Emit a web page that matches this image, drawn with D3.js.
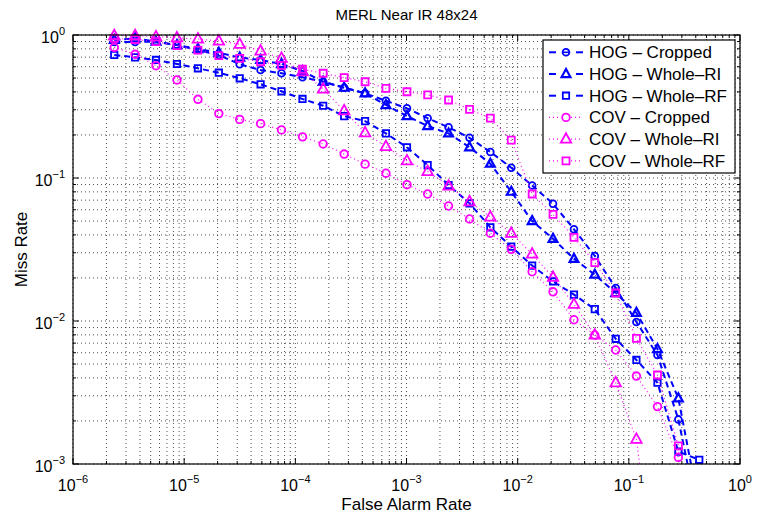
<!DOCTYPE html>
<html><head><meta charset="utf-8">
<script src="https://cdn.jsdelivr.net/npm/d3@7"></script>
<style>
body{margin:0;background:#fff}
text{font-family:"Liberation Sans",Arial,Helvetica,sans-serif;fill:#000}
</style>
</head><body>
<svg id="chart" width="759" height="517"></svg>
<script>
// ---------- data ----------
const fppw = [2.35e-6,3.62e-6,5.58e-6,8.61e-6,1.33e-5,2.05e-5,3.16e-5,4.87e-5,7.51e-5,1.16e-4,
  1.78e-4,2.75e-4,4.24e-4,6.53e-4,1.01e-3,1.55e-3,2.39e-3,3.69e-3,5.68e-3,8.76e-3,
  1.35e-2,2.08e-2,3.21e-2,4.94e-2,7.62e-2,0.117,0.181,0.279,0.430];

const hogCropped = [0.894,0.894,0.898,0.851,0.785,0.725,0.624,0.569,0.540,0.506,0.471,0.428,0.391,0.347,0.307,
  0.262,0.226,0.191,0.152,0.118,0.0886,0.0661,0.0438,0.0285,0.0170,0.00984,0.00578,0.00205,0.0004];
const hogWholeRI = [0.923,0.948,0.898,0.851,0.798,0.752,0.696,0.669,0.627,0.560,0.471,0.428,0.391,0.324,0.271,
  0.231,0.205,0.164,0.126,0.0802,0.0500,0.0376,0.0272,0.0211,0.0157,0.0114,0.00637,0.00288,0.0005];
const hogWholeRF = [0.725,0.698,0.669,0.627,0.585,0.545,0.498,0.452,0.404,0.357,0.320,0.271,0.250,0.205,0.164,
  0.123,0.0893,0.0665,0.0452,0.0331,0.0244,0.0189,0.0153,0.0121,0.00751,0.00534,0.00370,0.00122,0.00107];
const covCropped = [0.820,0.733,0.610,0.485,0.355,0.282,0.257,0.240,0.217,0.194,0.173,0.147,0.125,0.108,0.0898,
  0.0773,0.0637,0.0517,0.0411,0.0317,0.0221,0.0160,0.0102,0.00798,0.00627,0.00412,0.00252,0.00111];
const covWholeRI = [0.99,0.99,0.973,0.957,0.938,0.908,0.861,0.773,0.687,0.554,0.419,0.295,0.207,0.166,0.132,
  0.111,0.0879,0.0683,0.0534,0.0411,0.0294,0.0202,0.0131,0.00798,0.00370,0.00149];
const covWholeRF = [0.948,0.930,0.898,0.842,0.785,0.717,0.687,0.650,0.614,0.576,0.540,0.503,0.471,0.424,0.401,
  0.381,0.351,0.302,0.262,0.184,0.0773,0.0556,0.0385,0.0256,0.0157,0.00757,0.00419,0.00134];
// last (off-axis) point of each COV curve: [fppw, miss]
const covCroppedEnd = [0.29, 0.0005];
const covWholeRIEnd = [0.14, 0.0005];
const covWholeRFEnd = [0.30, 0.0005];

const seriesNames = ["HOG \u2013 Cropped","HOG \u2013 Whole\u2013RI","HOG \u2013 Whole\u2013RF",
                     "COV \u2013 Cropped","COV \u2013 Whole\u2013RI","COV \u2013 Whole\u2013RF"];
const xTickExp = [-6,-5,-4,-3,-2,-1,0];
const yTickExp = [-3,-2,-1,0];
const titleText = "MERL Near IR 48x24";
const xLabel = "False Alarm Rate";
const yLabel = "Miss Rate";

// ---------- layout ----------
const L = 73, R = 740, T = 35, B = 464;
const svg = d3.select("#chart");
const x = d3.scaleLog().domain([1e-6, 1]).range([L, R]);
const y = d3.scaleLog().domain([1e-3, 1]).range([B, T]);

const BLUE = "#0000ff", MAG = "#ff00ff";

function pts(vals, end) {
  const p = vals.map((v, i) => [fppw[i], v]);
  if (end) p.push(end);
  return p;
}
const series = [
  {name: seriesNames[0], data: pts(hogCropped), color: BLUE, dash: "6,4", w: 2, marker: "o", ms: 3.4, mw: 1.8},
  {name: seriesNames[1], data: pts(hogWholeRI), color: BLUE, dash: "6,4", w: 2, marker: "^", ms: 8, mw: 2.2},
  {name: seriesNames[2], data: pts(hogWholeRF), color: BLUE, dash: "6,4", w: 2, marker: "s", ms: 6.4, mw: 1.8},
  {name: seriesNames[3], data: pts(covCropped, covCroppedEnd), color: MAG, dash: "1,3", w: 1.2, marker: "o", ms: 3.8, mw: 1.8},
  {name: seriesNames[4], data: pts(covWholeRI, covWholeRIEnd), color: MAG, dash: "1,3", w: 1.2, marker: "^", ms: 9.5, mw: 1.8},
  {name: seriesNames[5], data: pts(covWholeRF, covWholeRFEnd), color: MAG, dash: "1,3", w: 1.2, marker: "s", ms: 7, mw: 1.8}
];

// background
svg.append("rect").attr("x", L).attr("y", T).attr("width", R - L).attr("height", B - T).attr("fill", "#fff");

// grid
const gGrid = svg.append("g").attr("stroke", "#222").attr("stroke-width", 0.8)
  .attr("stroke-dasharray", "1,3");
x.ticks().forEach(t => {
  gGrid.append("line").attr("x1", x(t)).attr("x2", x(t)).attr("y1", B).attr("y2", T);
});
y.ticks().forEach(t => {
  gGrid.append("line").attr("y1", y(t)).attr("y2", y(t)).attr("x1", L).attr("x2", R);
});

// ticks (inward, all four sides)
const isMajor = t => Math.abs(Math.log10(t) - Math.round(Math.log10(t))) < 1e-9;
const gTicks = svg.append("g").attr("stroke", "#000").attr("stroke-width", 1);
x.ticks().forEach(t => {
  const len = isMajor(t) ? 6 : 3;
  gTicks.append("line").attr("x1", x(t)).attr("x2", x(t)).attr("y1", B).attr("y2", B - len);
  gTicks.append("line").attr("x1", x(t)).attr("x2", x(t)).attr("y1", T).attr("y2", T + len);
});
y.ticks().forEach(t => {
  const len = isMajor(t) ? 6 : 3;
  gTicks.append("line").attr("y1", y(t)).attr("y2", y(t)).attr("x1", L).attr("x2", L + len);
  gTicks.append("line").attr("y1", y(t)).attr("y2", y(t)).attr("x1", R).attr("x2", R - len);
});

// clip
svg.append("clipPath").attr("id", "plotClip").append("rect")
  .attr("x", L).attr("y", T - 10).attr("width", R - L + 10).attr("height", B - T + 10);

// markers
function markerPath(type, s) {
  if (type === "^") return `M0,${-s*0.62}L${s*0.55},${s*0.38}L${-s*0.55},${s*0.38}Z`;
  if (type === "s") return `M${-s/2},${-s/2}h${s}v${s}h${-s}Z`;
  return null;
}
const line = d3.line().x(d => x(d[0])).y(d => y(d[1]));
const gData = svg.append("g");
series.forEach(s => {
  gData.append("path").attr("d", line(s.data)).attr("fill", "none")
    .attr("stroke", s.color).attr("stroke-width", s.w).attr("stroke-dasharray", s.dash)
    .attr("clip-path", "url(#plotClip)");
  const vis = s.data.filter(d => d[1] >= 1e-3);
  const g = gData.append("g").attr("stroke", s.color).attr("fill", "none").attr("stroke-width", s.mw);
  vis.forEach(d => {
    if (s.marker === "o") {
      g.append("circle").attr("cx", x(d[0])).attr("cy", y(d[1])).attr("r", s.ms);
    } else {
      g.append("path").attr("transform", `translate(${x(d[0])},${y(d[1])})`)
        .attr("d", markerPath(s.marker, s.ms));
    }
  });
});

// box
svg.append("rect").attr("x", L).attr("y", T).attr("width", R - L).attr("height", B - T)
  .attr("fill", "none").attr("stroke", "#000").attr("stroke-width", 1.2);

// tick labels
xTickExp.forEach(e => {
  const t = svg.append("text").attr("x", x(Math.pow(10, e))).attr("y", 491)
    .attr("text-anchor", "middle").attr("font-size", 16);
  t.append("tspan").text("10");
  t.append("tspan").attr("dy", -8).attr("font-size", 11).text(e === 0 ? "0" : "\u2212" + (-e));
});
yTickExp.forEach(e => {
  const yy = y(Math.pow(10, e));
  const t = svg.append("text").attr("x", 65).attr("y", yy + 8)
    .attr("text-anchor", "end").attr("font-size", 16);
  t.append("tspan").text("10");
  t.append("tspan").attr("dy", -8).attr("font-size", 11).text(e === 0 ? "0" : "\u2212" + (-e));
});

// titles
svg.append("text").attr("x", (L + R) / 2).attr("y", 20).attr("text-anchor", "middle")
  .attr("font-size", 15).text(titleText);
svg.append("text").attr("x", (L + R) / 2).attr("y", 510).attr("text-anchor", "middle")
  .attr("font-size", 17).text(xLabel);
svg.append("text").attr("transform", `translate(27,${(T + B) / 2}) rotate(-90)`)
  .attr("text-anchor", "middle").attr("font-size", 17).text(yLabel);

// legend
const lg = svg.append("g");
lg.append("rect").attr("x", 543).attr("y", 40).attr("width", 192).attr("height", 133)
  .attr("fill", "#fff").attr("stroke", "#000").attr("stroke-width", 1.2);
series.forEach((s, i) => {
  const yy = 52.3 + i * 21.7;
  if (s.color === BLUE) {
    [[549, 556], [576, 583]].forEach(seg => lg.append("line").attr("x1", seg[0]).attr("x2", seg[1])
      .attr("y1", yy).attr("y2", yy).attr("stroke", s.color).attr("stroke-width", s.w));
  } else {
    [[549, 561], [571, 583]].forEach(seg => lg.append("line").attr("x1", seg[0]).attr("x2", seg[1])
      .attr("y1", yy).attr("y2", yy).attr("stroke", s.color).attr("stroke-width", s.w)
      .attr("stroke-dasharray", s.dash));
  }
  if (s.marker === "o") {
    lg.append("circle").attr("cx", 566).attr("cy", yy).attr("r", s.ms)
      .attr("fill", "none").attr("stroke", s.color).attr("stroke-width", s.mw);
    if (s.color === BLUE) lg.append("line").attr("x1", 562).attr("x2", 570).attr("y1", yy).attr("y2", yy)
      .attr("stroke", s.color).attr("stroke-width", 1.6);
  } else {
    lg.append("path").attr("transform", `translate(566,${yy})`)
      .attr("d", markerPath(s.marker, s.ms))
      .attr("fill", "none").attr("stroke", s.color).attr("stroke-width", s.mw);
  }
  lg.append("text").attr("x", 589).attr("y", yy + 6).attr("font-size", 17).text(s.name);
});
</script>
</body></html>
